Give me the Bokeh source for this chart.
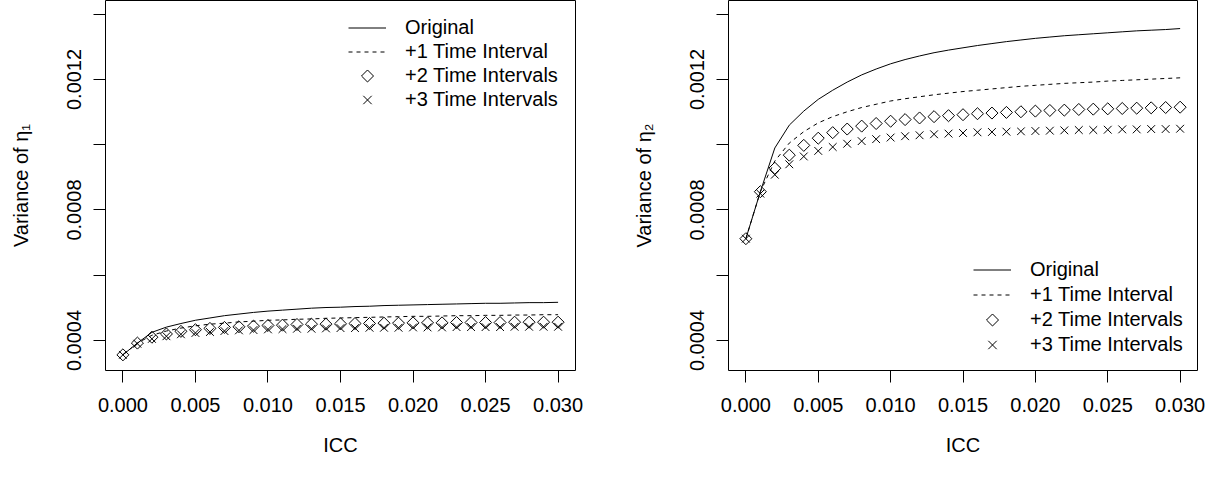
import math
from bokeh.plotting import figure
from bokeh.layouts import row
from bokeh.models import (Range1d, FixedTicker, PrintfTickFormatter, Legend, LegendItem,
                          PolyAnnotation)
from bokeh.embed import file_html
from bokeh.resources import INLINE

FONT = "Liberation Sans"

# ICC grid (x values)
icc = [0.000, 0.001, 0.002, 0.003, 0.004, 0.005, 0.006, 0.007, 0.008, 0.009,
       0.010, 0.011, 0.012, 0.013, 0.014, 0.015, 0.016, 0.017, 0.018, 0.019,
       0.020, 0.021, 0.022, 0.023, 0.024, 0.025, 0.026, 0.027, 0.028, 0.029, 0.030]

# Variance of eta_1 (left panel)
eta1_original = [0.000356, 0.000392, 0.000425, 0.000441, 0.000452, 0.000462, 0.000469, 0.000476,
                 0.000481, 0.000486, 0.000490, 0.000493, 0.000496, 0.000499, 0.000501, 0.000502,
                 0.000504, 0.000505, 0.000507, 0.000508, 0.000509, 0.000510, 0.000511, 0.000512,
                 0.000513, 0.000514, 0.000514, 0.000515, 0.000516, 0.000516, 0.000517]
eta1_plus1 = [0.000356, 0.000392, 0.000416, 0.000429, 0.000438, 0.000445, 0.000450, 0.000453,
              0.000457, 0.000459, 0.000462, 0.000463, 0.000465, 0.000466, 0.000468, 0.000469,
              0.000470, 0.000471, 0.000472, 0.000473, 0.000474, 0.000474, 0.000475, 0.000476,
              0.000476, 0.000477, 0.000477, 0.000478, 0.000478, 0.000479, 0.000479]
eta1_plus2 = [0.000356, 0.000392, 0.000410, 0.000420, 0.000428, 0.000433, 0.000437, 0.000440,
              0.000442, 0.000444, 0.000446, 0.000447, 0.000449, 0.000450, 0.000450, 0.000451,
              0.000452, 0.000452, 0.000453, 0.000453, 0.000454, 0.000454, 0.000454, 0.000455,
              0.000455, 0.000455, 0.000455, 0.000456, 0.000456, 0.000456, 0.000456]
eta1_plus3 = [0.000356, 0.000390, 0.000405, 0.000413, 0.000419, 0.000423, 0.000426, 0.000429,
              0.000431, 0.000432, 0.000434, 0.000435, 0.000436, 0.000436, 0.000437, 0.000438,
              0.000438, 0.000439, 0.000439, 0.000439, 0.000440, 0.000440, 0.000440, 0.000441,
              0.000441, 0.000441, 0.000441, 0.000442, 0.000442, 0.000442, 0.000442]

# Variance of eta_2 (right panel)
eta2_original = [0.000712, 0.000856, 0.000990, 0.001060, 0.001103, 0.001139, 0.001167, 0.001192,
                 0.001214, 0.001232, 0.001248, 0.001261, 0.001272, 0.001282, 0.001290, 0.001297,
                 0.001304, 0.001310, 0.001316, 0.001321, 0.001326, 0.001330, 0.001334, 0.001337,
                 0.001340, 0.001343, 0.001346, 0.001349, 0.001351, 0.001353, 0.001356]
eta2_plus1 = [0.000712, 0.000856, 0.000950, 0.001005, 0.001040, 0.001067, 0.001086, 0.001101,
              0.001114, 0.001124, 0.001134, 0.001141, 0.001147, 0.001153, 0.001158, 0.001163,
              0.001167, 0.001171, 0.001175, 0.001179, 0.001182, 0.001185, 0.001188, 0.001190,
              0.001192, 0.001195, 0.001197, 0.001199, 0.001201, 0.001203, 0.001205]
eta2_plus2 = [0.000712, 0.000856, 0.000928, 0.000968, 0.000998, 0.001020, 0.001037, 0.001048,
              0.001057, 0.001065, 0.001072, 0.001077, 0.001082, 0.001086, 0.001089, 0.001092,
              0.001095, 0.001097, 0.001099, 0.001101, 0.001103, 0.001105, 0.001106, 0.001108,
              0.001109, 0.001110, 0.001111, 0.001112, 0.001113, 0.001114, 0.001115]
eta2_plus3 = [0.000712, 0.000850, 0.000908, 0.000940, 0.000964, 0.000981, 0.000993, 0.001003,
              0.001011, 0.001017, 0.001022, 0.001026, 0.001029, 0.001032, 0.001034, 0.001036,
              0.001038, 0.001039, 0.001040, 0.001041, 0.001042, 0.001043, 0.001044, 0.001045,
              0.001045, 0.001046, 0.001047, 0.001047, 0.001048, 0.001048, 0.001049]

series_labels = ["Original", "+1 Time Interval", "+2 Time Intervals", "+3 Time Intervals"]

x_ticks = [0.000, 0.005, 0.010, 0.015, 0.020, 0.025, 0.030]
y_ticks = [0.0004, 0.0006, 0.0008, 0.0010, 0.0012, 0.0014]
y_tick_labels = ["0.0004", "", "0.0008", "", "0.0012", ""]

ITEM_H = 23
GLYPH_W = 38
DIAMOND_SIZE = 8.5   # side of the rotated square (diagonal ~12 px)
CROSS_SIZE = 11      # bokeh "x" marker size
CROSS_HALF = 4.2     # half extent of the legend cross key


def key_poly(xs, ys):
    return PolyAnnotation(xs=xs, ys=ys, xs_units="screen", ys_units="screen",
                          fill_color=None, fill_alpha=0, line_color="black", line_width=1,
                          line_alpha=1)


def make_panel(ylabel, orig, p1, p2, p3, width, b_left, b_right, legend_loc, spacing):
    p = figure(width=width, height=462, output_backend="svg", toolbar_location=None, tools="",
               x_range=Range1d(-0.0012, 0.0312), y_range=Range1d(0.000308, 0.001442),
               min_border_left=b_left, min_border_right=b_right,
               min_border_top=0, min_border_bottom=92)
    p.background_fill_color = "white"
    p.border_fill_color = "white"
    p.outline_line_color = "black"
    p.outline_line_width = 1
    p.outline_line_alpha = 1
    p.xgrid.visible = False
    p.ygrid.visible = False

    r0 = p.line(icc, orig, line_color="black", line_width=1)
    r1 = p.line(icc, p1, line_color="black", line_width=1, line_dash="4 4")
    p.scatter(icc, p2, marker="square", angle=math.pi / 4, size=DIAMOND_SIZE,
              fill_color=None, line_color="black", line_width=1)
    p.scatter(icc, p3, marker="x", size=CROSS_SIZE, line_color="black", line_width=1)
    # legend stand-ins for the marker series (keys drawn below in frame pixels)
    r2_key = p.line([], [], line_alpha=0)
    r3_key = p.line([], [], line_alpha=0)

    for ax in (p.xaxis[0], p.yaxis[0]):
        ax.axis_line_color = None
        ax.major_tick_line_color = "black"
        ax.major_tick_line_width = 1
        ax.major_tick_in = 0
        ax.major_tick_out = 12
        ax.minor_tick_line_color = None
        ax.major_label_text_font = FONT
        ax.major_label_text_font_size = "20px"
        ax.major_label_text_color = "black"
        ax.axis_label_text_font = FONT
        ax.axis_label_text_font_size = "20px"
        ax.axis_label_text_font_style = "normal"
        ax.axis_label_text_color = "black"

    p.xaxis.ticker = FixedTicker(ticks=x_ticks)
    p.xaxis.formatter = PrintfTickFormatter(format="%.3f")
    p.xaxis.major_label_standoff = 15
    p.xaxis.axis_label = "ICC"
    p.xaxis.axis_label_standoff = 19

    p.yaxis.ticker = FixedTicker(ticks=y_ticks)
    p.yaxis.major_label_overrides = dict(zip(y_ticks, y_tick_labels))
    p.yaxis.major_label_orientation = "vertical"
    p.yaxis.major_label_standoff = 12
    p.yaxis.axis_label = ylabel
    p.yaxis.axis_label_standoff = 33

    legend = Legend(items=[LegendItem(label=series_labels[0], renderers=[r0]),
                           LegendItem(label=series_labels[1], renderers=[r1]),
                           LegendItem(label=series_labels[2], renderers=[r2_key]),
                           LegendItem(label=series_labels[3], renderers=[r3_key])],
                    location=legend_loc, orientation="vertical",
                    border_line_color=None, background_fill_alpha=0,
                    padding=0, margin=0, spacing=spacing,
                    glyph_width=GLYPH_W, glyph_height=ITEM_H, label_height=ITEM_H,
                    label_standoff=19,
                    label_text_font=FONT, label_text_font_size="20px", label_text_color="black")
    p.add_layout(legend)

    # keys for the marker entries, in frame pixel units
    lx, ly = legend_loc
    total_h = 4 * ITEM_H + 3 * spacing
    cx = lx + GLYPH_W / 2
    cy2 = ly + total_h - 2 * (ITEM_H + spacing) - ITEM_H / 2
    cy3 = ly + total_h - 3 * (ITEM_H + spacing) - ITEM_H / 2
    d = DIAMOND_SIZE * math.sqrt(2) / 2
    p.add_layout(key_poly([cx, cx + d, cx, cx - d], [cy2 + d, cy2, cy2 - d, cy2]))
    c = CROSS_HALF
    p.add_layout(key_poly([cx - c, cx + c], [cy3 - c, cy3 + c]))
    p.add_layout(key_poly([cx - c, cx + c], [cy3 + c, cy3 - c]))
    return p


left = make_panel("Variance of \u03b7\u2081", eta1_original, eta1_plus1, eta1_plus2, eta1_plus3,
                  610, 105, 35, (243, 259), 1)
right = make_panel("Variance of \u03b7\u2082", eta2_original, eta2_plus1, eta2_plus2, eta2_plus3,
                   595, 118, 8, (245, 14), 2)

layout = row(left, right)
open("out.html", "w").write(file_html(layout, INLINE))
